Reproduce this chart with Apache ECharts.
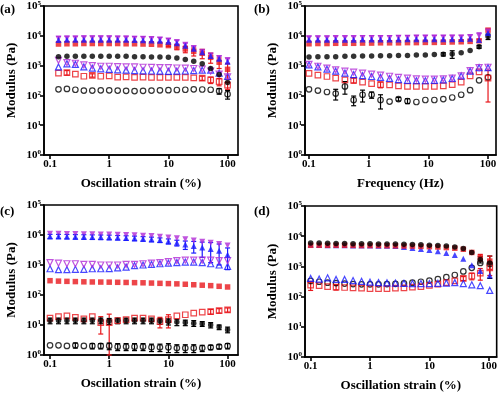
<!DOCTYPE html>
<html><head><meta charset="utf-8">
<script src="https://cdn.jsdelivr.net/npm/echarts@6/dist/echarts.min.js"></script>
<style>html,body{margin:0;padding:0;background:#fff}#c{width:500px;height:394px}</style>
</head><body><div id="c"></div><script>
// ---------- data ----------
const xA = [0.139,0.193,0.268,0.373,0.518,0.72,1,1.39,1.93,2.68,3.73,5.18,7.2,10,13.9,19.3,26.8,37.3,51.8,72,100];
const aPurpleFilled = [8000,8100,8100,8200,8200,8200,8200,8100,8100,8000,7900,7800,7500,7000,6200,5000,3900,2900,2200,1800,1500];
const aBlueFilled   = [7200,7300,7300,7400,7400,7400,7400,7300,7300,7200,7100,7000,6800,6300,5600,4600,3700,2800,2100,1700,1350];
const aRedFilled    = [5300,5400,5400,5500,5500,5500,5500,5500,5400,5400,5300,5200,5000,4700,4200,3600,3000,2600,1900,1300,750];
const aBlackFilled  = [2000,2050,2050,2050,2050,2050,2050,2050,2050,2000,2000,1950,1950,1900,1800,1600,1400,1150,800,500,270];
const aPurpleOpen   = [1500,1250,1200,1050,1000,950,950,920,900,900,880,870,860,850,830,820,800,760,650,520,420];
const aBlueOpen     = [900,1150,1100,900,820,780,750,720,700,680,670,660,650,640,650,660,680,700,700,560,430];
const aRedOpen      = [560,580,520,440,470,440,450,410,420,400,410,400,400,400,400,400,390,380,330,290,220];
const aBlackOpen    = [160,165,155,145,145,148,148,145,142,140,142,145,148,150,152,155,160,158,155,140,110];
const aPurpleFilledErr = [1600,1600,1600,1600,1600,1600,1600,1600,1600,1500,1500,1400,1300,1100,900,700,600,500,400,300,300];
const aRedFilledErr    = [0,0,0,0,0,0,0,0,0,0,0,0,0,300,800,900,900,900,700,500,400];
const aRedOpenErr      = [0,100,0,0,60,0,0,0,0,0,0,0,0,0,0,0,0,60,80,80,60];
const aBlackOpenErr    = [0,0,0,0,0,0,0,0,0,0,0,0,0,0,0,0,0,0,0,30,35];

const xB = [0.1,0.141,0.2,0.28,0.4,0.56,0.79,1.12,1.58,2.24,3.16,4.47,6.3,8.9,12.6,17.8,25.1,35.5,50.1,70.8,100];
const bPurpleFilled = [8200,8300,8300,8400,8400,8400,8500,8500,8500,8500,8600,8600,8700,8700,8700,8700,8800,8800,9200,10000,14000];
const bBlueFilled   = [7300,7300,7400,7400,7400,7400,7500,7500,7500,7500,7500,7600,7600,7600,7600,7700,7700,7800,8000,7200,12500];
const bRedFilled    = [5400,5500,5500,5600,5600,5600,5700,5700,5800,5800,5800,5900,5900,6000,6000,6100,6200,6300,6500,6800,15500];
const bBlackFilled  = [1950,2000,2000,2000,2050,2050,2100,2100,2150,2150,2200,2200,2250,2250,2350,2400,2450,2700,3200,4300,9500];
const bPurpleOpen   = [1100,950,820,720,650,600,560,520,480,440,400,380,360,350,350,360,380,450,680,850,880];
const bBlueOpen     = [1050,900,760,650,560,500,460,430,400,370,340,320,310,310,320,330,370,450,650,850,850];
const bRedOpen      = [550,480,430,380,330,320,280,250,230,225,210,200,200,200,200,210,230,280,450,620,380];
const bBlackOpen    = [160,145,130,115,200,70,105,105,70,62,75,65,60,70,70,75,85,105,150,320,400];
const bPurpleFilledErr = [1500,1500,1500,1500,1500,1500,1600,1600,1600,1600,1600,1600,1600,1600,1600,1600,1600,1600,1500,2500,3000];
const bBlackFilledErr  = [0,0,0,0,0,0,0,0,0,0,0,0,0,0,0,300,700,0,0,500,2000];
const bRedOpenErr      = [0,0,0,0,0,60,0,0,50,0,0,0,0,0,0,0,0,0,0,0,320];
const bBlackOpenErr    = [0,0,0,45,90,25,45,25,35,0,10,12,0,0,0,0,0,0,0,0,0];

const xC = [0.1,0.139,0.193,0.268,0.373,0.518,0.72,1,1.39,1.93,2.68,3.73,5.18,7.2,10,13.9,19.3,26.8,37.3,51.8,72,100];
const cPurpleFilled = [11000,11000,10800,10700,10600,10500,10400,10300,10200,10000,9800,9500,9200,8800,8300,7800,7200,6600,6000,5500,5000,4500];
const cBlueFilled   = [9000,9000,8900,8800,8700,8600,8500,8400,8200,8000,7800,7500,7200,6800,6200,5500,4800,4300,3800,3400,3000,2200];
const cPurpleOpen   = [1200,1150,1100,1100,1050,1050,1000,1000,1000,1050,1050,1100,1150,1200,1300,1400,1450,1450,1450,1450,1400,1400];
const cBlueOpen     = [750,700,700,720,720,750,750,760,800,850,950,1000,1050,1100,1150,1200,1250,1250,1200,1100,1000,900];
const cRedFilled    = [300,290,285,280,275,272,270,268,265,262,258,255,250,245,240,235,228,220,212,205,195,185];
const cRedOpen      = [17,19,20,18,16,19,12,12,14,15,17,17,16,13,15,20,22,25,27,28,30,32];
const cBlackFilled  = [14,14,14,14,14,14,14,13.5,14,14,14,14,14,13.5,13,12.5,12,11.5,11,10,8.5,7];
const cBlackOpen    = [2.1,2.1,2.0,2.1,2.0,2.0,2.0,2.0,1.9,1.9,1.9,1.9,1.8,1.8,1.8,1.7,1.7,1.7,1.7,1.8,1.9,2.0];
const cBlueFilledErr  = [1500,1500,1500,1500,1500,1500,1500,1500,1400,1400,1400,1300,1300,1200,1200,1200,1500,1800,2000,2200,2000,1500];
const cRedOpenErr     = [0,0,0,0,0,0,7,11,0,0,0,0,0,5,7,0,0,0,0,5,5,5];
const cBlackFilledErr = [3,3,3,3,3,3,3,3,3,3,3,3,3,3,3,3,2.5,2.5,2,2,1.5,1.5];
const cBlackOpenErr   = [0,0,0,0.4,0,0.4,0.4,0.5,0.5,0.5,0.5,0.5,0.5,0.5,0.6,0.5,0.5,0.5,0.4,0.3,0.3,0.4];

const xD = [0.1,0.139,0.193,0.268,0.373,0.518,0.72,1,1.39,1.93,2.68,3.73,5.18,7.2,10,13.9,19.3,26.8,37.3,51.8,72,104];
const dBlackFilled = [6000,5900,5800,5700,5700,5600,5600,5600,5500,5500,5500,5400,5300,5200,5000,4900,4700,4400,3900,2900,1700,1300];
const dRedFilled   = [5000,5000,5000,5000,5000,4950,4900,4900,4900,4850,4800,4750,4700,4600,4500,4400,4200,4000,3700,2900,2000,1500];
const dBlueFilled  = [5200,5100,5000,5000,5000,4950,4900,4900,4850,4800,4700,4400,4100,3800,3500,3200,2800,2400,1800,1100,700,500];
const dBlackOpen   = [330,310,290,280,270,260,255,255,255,260,265,275,290,310,340,380,440,520,680,900,1300,1200];
const dRedOpen     = [240,230,215,205,200,195,190,185,185,185,190,195,205,215,235,260,290,330,400,480,600,900];
const dBlueOpen    = [400,380,420,370,370,340,320,300,290,285,280,275,270,270,270,275,280,290,270,245,230,160];
const dBlackFilledErr = [0,0,0,0,0,0,0,0,0,0,0,0,0,0,0,0,0,0,0,0,400,900];
const dRedFilledErr   = [0,0,0,0,0,0,0,0,0,0,0,0,0,0,0,0,0,0,0,0,500,700];
const dRedOpenErr     = [80,0,0,40,0,0,0,0,0,0,0,0,0,0,0,0,0,0,60,120,250,400];

const xTicks = [0.1, 1, 10, 100];
const yTicks = [1, 10, 100, 1000, 10000, 100000];
const xTitles = ['Oscillation strain (%)', 'Frequency (Hz)', 'Oscillation strain (%)', 'Oscillation strain (%)'];
const yTitle = 'Modulus (Pa)';
const panelLetters = ['(a)', '(b)', '(c)', '(d)'];

// ---------- styling ----------
const FONT = '"Liberation Serif", "Times New Roman", serif';
const COL = {black:'#000000', red:'#e8161b', blue:'#1a1aff', purple:'#b02bd6'};
const SYM = {circle:'circle', square:'rect', tri:'triangle', inv:'path://M0,0L10,0L5,9Z'};
const SIZE = {circle:5.5, square:5.5, tri:6, inv:6};

const grids = [
  {left:44, top:4, width:194, height:151},
  {left:305, top:4, width:191, height:151},
  {left:44, top:205, width:194, height:150},
  {left:305, top:206, width:193, height:151}
];
const xRanges = [[0.0791,150],[0.0857,136],[0.0791,150],[0.0803,136]];

function ser(gi, xs, ys, color, shape, filled) {
  return {
    type:'scatter', xAxisIndex:gi, yAxisIndex:gi,
    data: xs.map((x,i)=>[x, ys[i]]),
    symbol: SYM[shape], symbolSize: SIZE[shape],
    itemStyle:{color: filled ? color : 'rgba(255,255,255,0)', borderColor: color, borderWidth: filled ? 0 : 1.2},
    emphasis:{disabled:true}, z: filled ? 3 : 2
  };
}
function errSer(gi, xs, ys, es, color) {
  const data = [];
  xs.forEach((x,i)=>{ if (es[i] > 0) data.push([x, Math.max(ys[i]-es[i], 1), ys[i]+es[i]]); });
  return {
    type:'custom', xAxisIndex:gi, yAxisIndex:gi, data, z:1, silent:true,
    encode:{x:0, y:[1,2]},
    renderItem:(params, api)=>{
      const lo = api.coord([api.value(0), api.value(1)]);
      const hi = api.coord([api.value(0), api.value(2)]);
      const w = 2.5, st = {stroke:color, lineWidth:1.2};
      return {type:'group', children:[
        {type:'line', shape:{x1:lo[0],y1:lo[1],x2:hi[0],y2:hi[1]}, style:st},
        {type:'line', shape:{x1:lo[0]-w,y1:lo[1],x2:lo[0]+w,y2:lo[1]}, style:st},
        {type:'line', shape:{x1:hi[0]-w,y1:hi[1],x2:hi[0]+w,y2:hi[1]}, style:st}
      ]};
    }
  };
}
const series = [
  errSer(0,xA,aPurpleFilled,aPurpleFilledErr,COL.purple),
  errSer(0,xA,aRedFilled,aRedFilledErr,COL.red),
  errSer(0,xA,aRedOpen,aRedOpenErr,COL.red),
  errSer(0,xA,aBlackOpen,aBlackOpenErr,COL.black),
  ser(0,xA,aBlackOpen,COL.black,'circle',false),
  ser(0,xA,aRedOpen,COL.red,'square',false),
  ser(0,xA,aBlueOpen,COL.blue,'tri',false),
  ser(0,xA,aPurpleOpen,COL.purple,'inv',false),
  ser(0,xA,aBlackFilled,COL.black,'circle',true),
  ser(0,xA,aRedFilled,COL.red,'square',true),
  ser(0,xA,aPurpleFilled,COL.purple,'inv',true),
  ser(0,xA,aBlueFilled,COL.blue,'tri',true),

  errSer(1,xB,bPurpleFilled,bPurpleFilledErr,COL.purple),
  errSer(1,xB,bBlackFilled,bBlackFilledErr,COL.black),
  errSer(1,xB,bRedOpen,bRedOpenErr,COL.red),
  errSer(1,xB,bBlackOpen,bBlackOpenErr,COL.black),
  ser(1,xB,bBlackOpen,COL.black,'circle',false),
  ser(1,xB,bRedOpen,COL.red,'square',false),
  ser(1,xB,bBlueOpen,COL.blue,'tri',false),
  ser(1,xB,bPurpleOpen,COL.purple,'inv',false),
  ser(1,xB,bBlackFilled,COL.black,'circle',true),
  ser(1,xB,bRedFilled,COL.red,'square',true),
  ser(1,xB,bPurpleFilled,COL.purple,'inv',true),
  ser(1,xB,bBlueFilled,COL.blue,'tri',true),

  errSer(2,xC,cBlueFilled,cBlueFilledErr,COL.blue),
  errSer(2,xC,cRedOpen,cRedOpenErr,COL.red),
  errSer(2,xC,cBlackFilled,cBlackFilledErr,COL.black),
  errSer(2,xC,cBlackOpen,cBlackOpenErr,COL.black),
  ser(2,xC,cBlackOpen,COL.black,'circle',false),
  ser(2,xC,cRedOpen,COL.red,'square',false),
  ser(2,xC,cBlueOpen,COL.blue,'tri',false),
  ser(2,xC,cPurpleOpen,COL.purple,'inv',false),
  ser(2,xC,cBlackFilled,COL.black,'circle',true),
  ser(2,xC,cRedFilled,COL.red,'square',true),
  ser(2,xC,cPurpleFilled,COL.purple,'inv',true),
  ser(2,xC,cBlueFilled,COL.blue,'tri',true),

  errSer(3,xD,dBlackFilled,dBlackFilledErr,COL.black),
  errSer(3,xD,dRedFilled,dRedFilledErr,COL.red),
  errSer(3,xD,dRedOpen,dRedOpenErr,COL.red),
  ser(3,xD,dBlackOpen,COL.black,'circle',false),
  ser(3,xD,dRedOpen,COL.red,'square',false),
  ser(3,xD,dBlueOpen,COL.blue,'tri',false),
  ser(3,xD,dBlueFilled,COL.blue,'tri',true),
  ser(3,xD,dRedFilled,COL.red,'square',true),
  ser(3,xD,dBlackFilled,COL.black,'circle',true)
];

const axisLine = {show:true, onZero:false, lineStyle:{color:'#000', width:1.6}};
const axisTick = {show:true, inside:false, length:4, lineStyle:{color:'#000', width:1.6}};

const xAxes = grids.map((g,i)=>({
  type:'log', logBase:10, gridIndex:i, min:xRanges[i][0], max:xRanges[i][1],
  axisLine, axisTick:Object.assign({customValues:xTicks}, axisTick),
  splitLine:{show:false}, minorTick:{show:false},
  axisLabel:{customValues:xTicks, margin:4, color:'#000', fontFamily:FONT, fontWeight:'bold', fontSize:11,
    formatter:v=> v<0.5 ? '0.1' : String(Math.round(v))},
  name:xTitles[i], nameLocation:'middle', nameGap:22,
  nameTextStyle:{color:'#000', fontFamily:FONT, fontWeight:'bold', fontSize:13}
}));
const yAxes = grids.map((g,i)=>({
  type:'log', logBase:10, gridIndex:i, min:1, max:100000,
  axisLine, axisTick:Object.assign({customValues:yTicks}, axisTick),
  splitLine:{show:false}, minorTick:{show:false},
  axisLabel:{customValues:yTicks, margin:3, color:'#000',
    formatter:v=> '{b|10}{s|' + Math.round(Math.log10(v)) + '}',
    rich:{b:{fontFamily:FONT, fontWeight:'bold', fontSize:11, color:'#000', lineHeight:12, verticalAlign:'bottom'},
          s:{fontFamily:FONT, fontWeight:'bold', fontSize:7, color:'#000', lineHeight:12, verticalAlign:'top', padding:[0,0,6,0]}}},
  name:yTitle, nameLocation:'middle', nameGap:26, nameRotate:90,
  nameTextStyle:{color:'#000', fontFamily:FONT, fontWeight:'bold', fontSize:13}
}));

const gridOpts = grids.map(g=>Object.assign({show:true, borderColor:'#000', borderWidth:1.6, backgroundColor:'transparent', containLabel:false}, g));

const graphic = panelLetters.map((t,i)=>({
  type:'text', left: i%2===0 ? 0 : 254, top: i<2 ? 3 : 205,
  style:{text:t, font:'bold 13px ' + FONT, fill:'#000'}
}));

const chart = echarts.init(document.getElementById('c'), null, {renderer:'canvas'});
chart.setOption({
  animation:false, backgroundColor:'#fff',
  grid:gridOpts, xAxis:xAxes, yAxis:yAxes, series, graphic
});
</script></body></html>
